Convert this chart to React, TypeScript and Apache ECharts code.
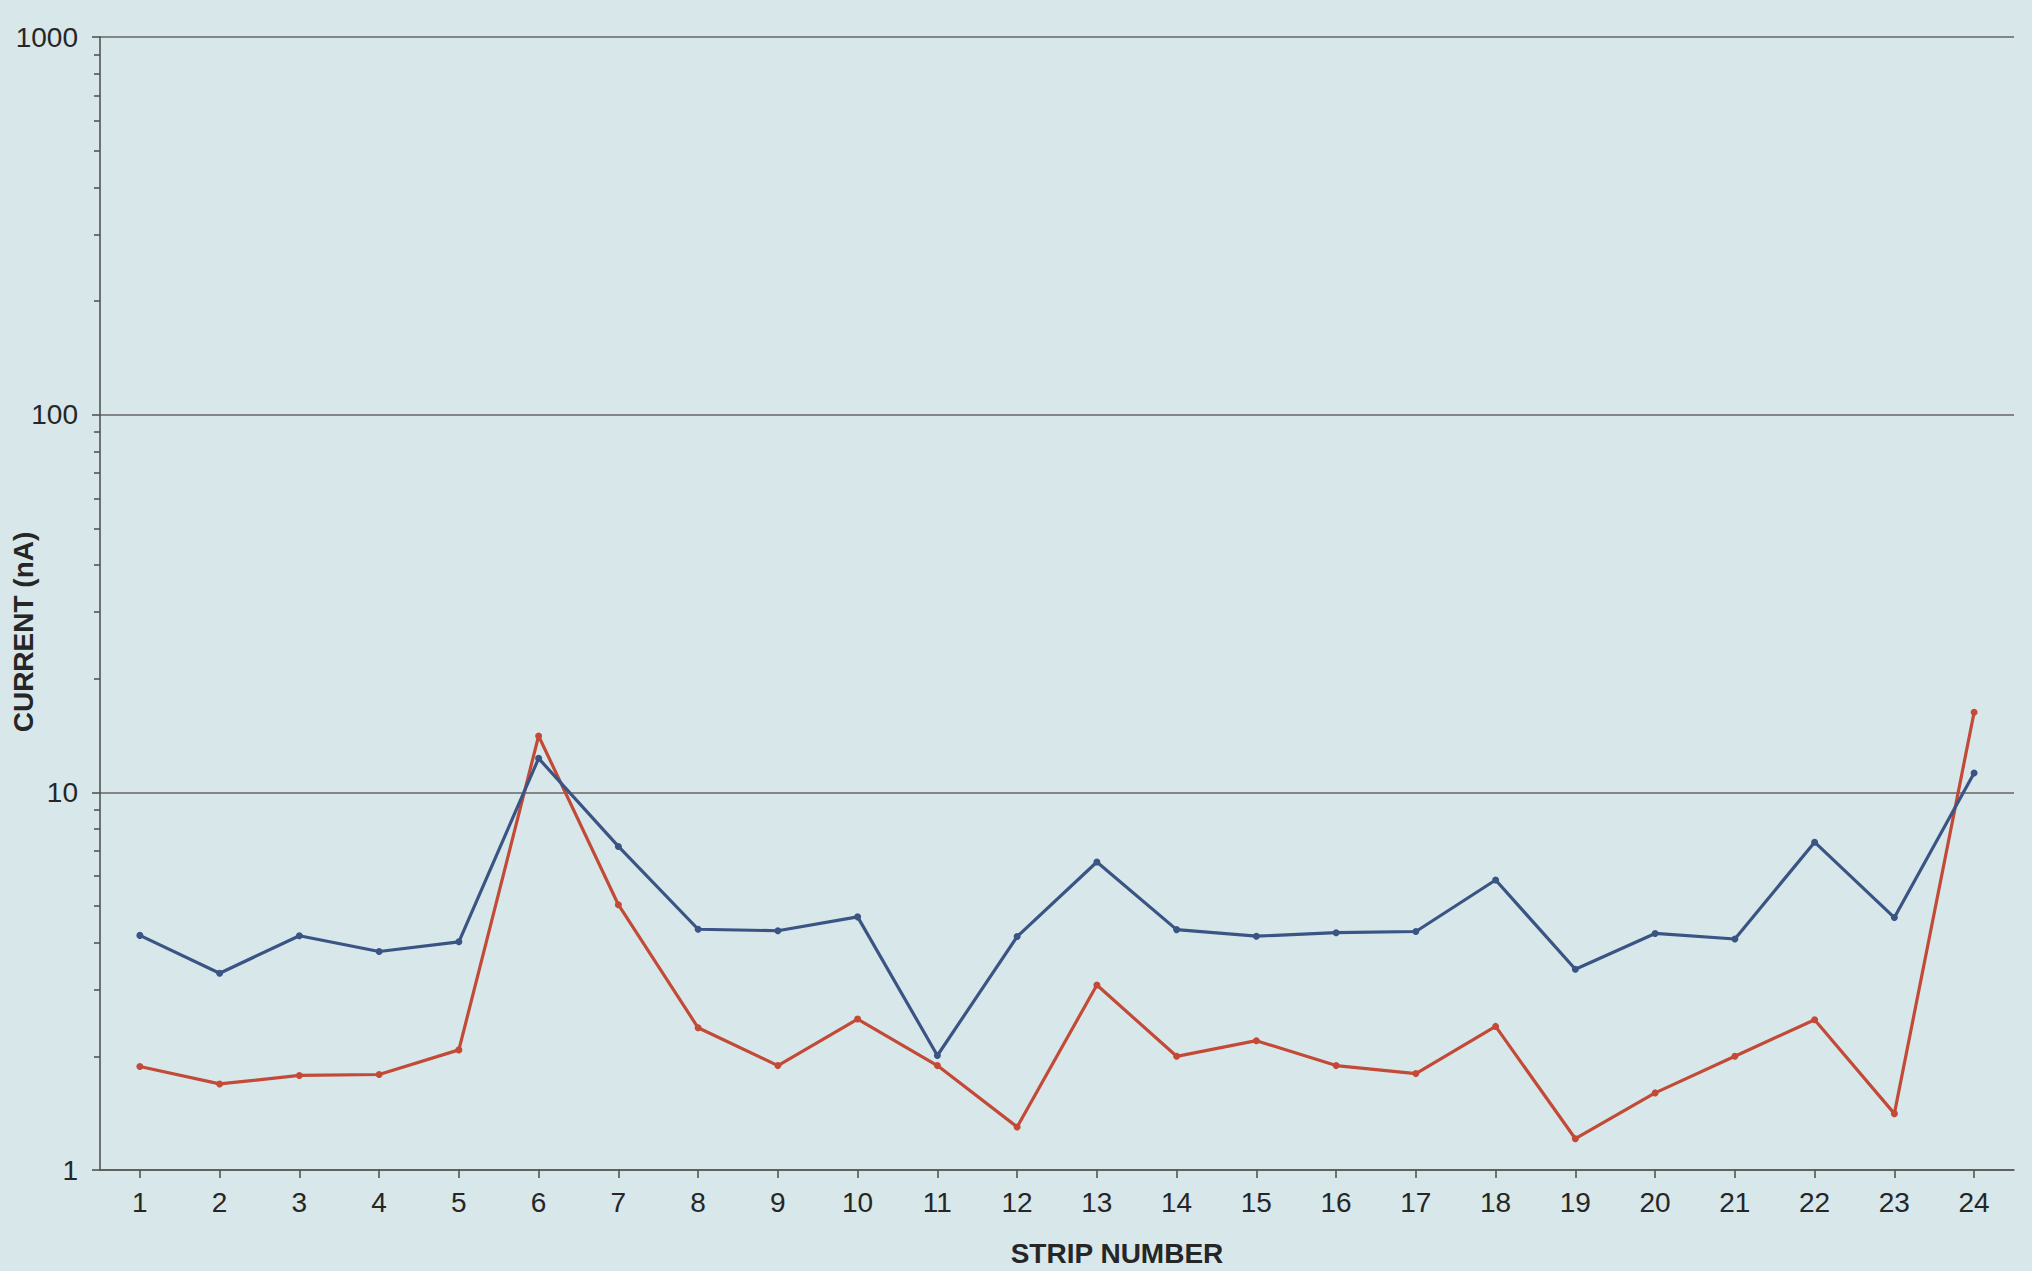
import React, { useEffect, useRef } from "react";
import * as echarts from "echarts";

const strips = ["1","2","3","4","5","6","7","8","9","10","11","12","13","14","15","16","17","18","19","20","21","22","23","24"];
const blueSeries = [4.18, 3.32, 4.17, 3.79, 4.02, 12.3, 7.19, 4.34, 4.3, 4.68, 2.01, 4.15, 6.54, 4.33, 4.16, 4.25, 4.28, 5.86, 3.4, 4.23, 4.09, 7.38, 4.66, 11.25];
const redSeries = [1.88, 1.69, 1.78, 1.79, 2.08, 14.1, 5.04, 2.38, 1.89, 2.51, 1.89, 1.3, 3.09, 2.0, 2.2, 1.89, 1.8, 2.4, 1.21, 1.6, 2.0, 2.5, 1.41, 16.3];
const yMin = 1;
const yMax = 1000;
const xTitle = "STRIP NUMBER";
const yTitle = "CURRENT (nA)";

export default function App() {
  const ref = useRef<HTMLDivElement>(null);
  useEffect(() => {
    document.body.style.margin = "0";
    const chart = echarts.init(ref.current!, null, { renderer: "svg" });
    const axisColor = "#555555";
    const font = "Liberation Sans, Arial, sans-serif";
    chart.setOption({
      animation: false,
      backgroundColor: "#d7e7ea",
      grid: { left: 100, right: 18, top: 37, bottom: 101, containLabel: false },
      xAxis: {
        type: "category",
        data: strips,
        boundaryGap: true,
        axisLine: { show: true, lineStyle: { color: axisColor, width: 1.6 } },
        axisTick: { show: true, alignWithLabel: true, length: 8, lineStyle: { color: axisColor, width: 1.6 } },
        axisLabel: { color: "#262626", fontSize: 28, fontFamily: font, margin: 18 },
        splitLine: { show: false },
      },
      yAxis: {
        type: "log",
        logBase: 10,
        min: yMin,
        max: yMax,
        axisLine: { show: true, lineStyle: { color: axisColor, width: 1.6 } },
        axisTick: { show: true, length: 8, lineStyle: { color: axisColor, width: 1.6 } },
        minorTick: { show: true, splitNumber: 9, length: 6, lineStyle: { color: axisColor, width: 1.6 } },
        minorSplitLine: { show: false },
        axisLabel: { color: "#262626", fontSize: 28, fontFamily: font, margin: 22, formatter: (v: number) => String(Math.round(v)) },
        splitLine: { show: true, lineStyle: { color: "#666666", width: 1.6 } },
      },
      graphic: [
        {
          type: "text",
          x: 1117,
          y: 1253,
          style: {
            text: xTitle,
            fill: "#262626",
            font: "bold 28px Liberation Sans, Arial, sans-serif",
            align: "center",
            verticalAlign: "middle",
          },
        },
        {
          type: "text",
          x: 23,
          y: 632,
          rotation: Math.PI / 2,
          style: {
            text: yTitle,
            fill: "#262626",
            font: "bold 28px Liberation Sans, Arial, sans-serif",
            align: "center",
            verticalAlign: "middle",
          },
        },
      ],
      series: [
        {
          type: "line",
          name: "A",
          data: blueSeries,
          symbol: "circle",
          symbolSize: 7,
          lineStyle: { color: "#3a5484", width: 3.2 },
          itemStyle: { color: "#3a5484" },
          z: 3,
        },
        {
          type: "line",
          name: "B",
          data: redSeries,
          symbol: "circle",
          symbolSize: 7,
          lineStyle: { color: "#c24a37", width: 3.2 },
          itemStyle: { color: "#c24a37" },
          z: 2,
        },
      ],
    });
    return () => chart.dispose();
  }, []);
  return <div ref={ref} style={{ position: "absolute", left: 0, top: 0, width: 2032, height: 1271 }} />;
}
